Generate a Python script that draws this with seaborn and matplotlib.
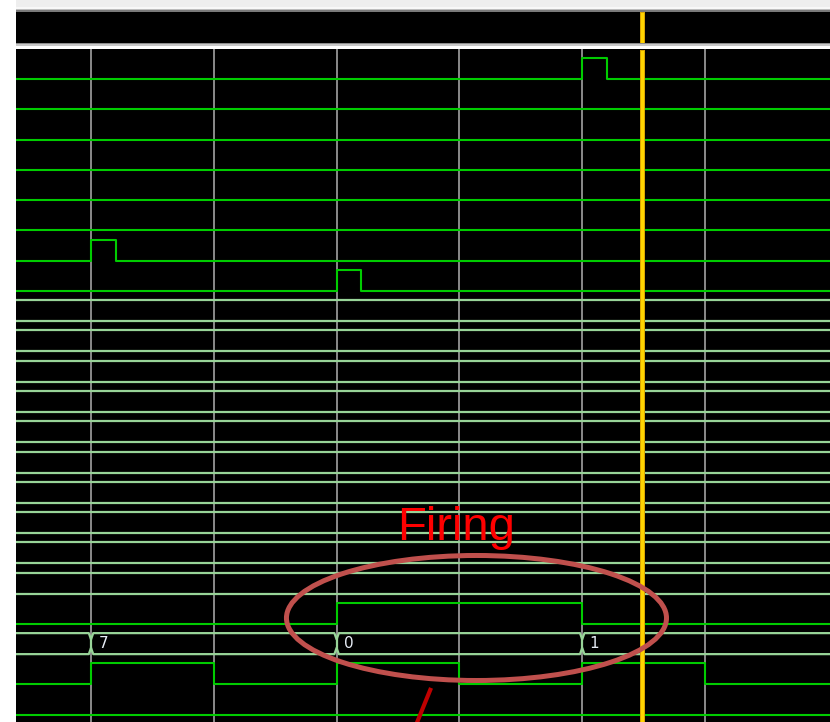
import numpy as np
import pandas as pd
import matplotlib
matplotlib.use("Agg")
import matplotlib.pyplot as plt
from matplotlib.patches import Rectangle, Ellipse
import seaborn as sns

# ---- time base (one grid division per clock period) ----
grid_times = [0, 1, 2, 3, 4, 5]
t_view = (-0.611, 6.018)
cursor_time = 4.487

# ---- single-bit signals: row -> (transition times, levels after each transition) ----
sig_rows = [0, 1, 2, 3, 4, 5, 6, 7, 18, 20, 21]
sig_times = [
    [4.0, 4.2],
    [], [], [], [], [],
    [0.0, 0.2],
    [2.0, 2.2],
    [2.0, 4.0],
    [0.0, 1.0, 2.0, 3.0, 4.0, 5.0],
    [],
]
sig_levels = [
    [1, 0],
    [], [], [], [], [],
    [1, 0],
    [1, 0],
    [1, 0],
    [1, 0, 1, 0, 1, 0],
    [],
]
sig_initial = [0, 0, 0, 0, 0, 0, 0, 0, 0, 0, 0]

# ---- buses: row -> (transition times, values shown after them) ----
bus_rows = [8, 9, 10, 11, 12, 13, 14, 15, 16, 17, 19]
bus_times = [[], [], [], [], [], [], [], [], [], [], [0.0, 2.0, 4.0]]
bus_values = [[], [], [], [], [], [], [], [], [], [], ["7", "0", "1"]]

LOW = 0.694      # low level offset inside a row
NOTCH = 0.018    # half-width of a bus transition mark

# build long-form tables for seaborn
sig_records = []
for row, times, levels, init in zip(sig_rows, sig_times, sig_levels, sig_initial):
    y_of = lambda v: row + (1 - v) * LOW
    pts = [(t_view[0] - 0.2, y_of(init))]
    cur = init
    for t, v in zip(times, levels):
        pts.append((t, y_of(cur)))
        pts.append((t, y_of(v)))
        cur = v
    pts.append((t_view[1] + 0.2, y_of(cur)))
    for i, (x, y) in enumerate(pts):
        sig_records.append({"time": x, "level": y, "seg": f"s{row}", "order": i})
sig_df = pd.DataFrame(sig_records)

bus_records = []
for row, times in zip(bus_rows, bus_times):
    top, bot = row, row + LOW
    q1, q3 = row + LOW * 0.3, row + LOW * 0.7
    top_pts = [(t_view[0] - 0.2, top)]
    bot_pts = [(t_view[0] - 0.2, bot)]
    for k, t in enumerate(times):
        top_pts += [(t - NOTCH, top), (t, q1), (t + NOTCH, top)]
        bot_pts += [(t - NOTCH, bot), (t, q3), (t + NOTCH, bot)]
        for i, (x, y) in enumerate([(t, q1), (t, q3)]):
            bus_records.append({"time": x, "level": y, "seg": f"b{row}v{k}", "order": i})
    top_pts.append((t_view[1] + 0.2, top))
    bot_pts.append((t_view[1] + 0.2, bot))
    for name, pts in (("t", top_pts), ("b", bot_pts)):
        for i, (x, y) in enumerate(pts):
            bus_records.append({"time": x, "level": y, "seg": f"b{row}{name}", "order": i})
bus_df = pd.DataFrame(bus_records)

W, H = 830, 722
fig = plt.figure(figsize=(W / 100, H / 100), dpi=100, facecolor="white")

def band(y0, y1, color, x0=16):
    fig.add_artist(Rectangle((x0 / W, 1 - y1 / H), (W - x0) / W, (y1 - y0) / H,
                             transform=fig.transFigure, facecolor=color,
                             edgecolor="none", zorder=0))

# window chrome above the waveforms
band(0, 7, "#eeeeee")
band(7, 9, "#f8f8f8")
band(9, 10.5, "#bdbdbd")
band(10.5, 12, "#7a7a7a")
band(12, 43, "#000000")
band(43, 44.5, "#8c8c8c")
band(44.5, 46, "#c8c8c8")
band(46, 48.5, "#ffffff")

# time ruler strip
ax_top = fig.add_axes([16 / W, 1 - 43 / H, (W - 16) / W, 31 / H])
ax_top.set_facecolor("black")
ax_top.set_xlim(*t_view)
ax_top.set_ylim(0, 1)
ax_top.axvline(cursor_time, ymin=0, ymax=0.94, color="#d9a400", lw=3.6)
ax_top.axvline(cursor_time, ymin=0, ymax=0.94, color="#ffd400", lw=2.2)
for s in ax_top.spines.values():
    s.set_visible(False)
ax_top.set_xticks([])
ax_top.set_yticks([])

# waveform area
ax = fig.add_axes([16 / W, 0, (W - 16) / W, 673 / H])
ax.set_facecolor("black")
for s in ax.spines.values():
    s.set_visible(False)
ax.set_xticks([])
ax.set_yticks([])

for t in grid_times:
    ax.axvline(t, color="#8a8a8a", lw=1.4, zorder=1)

sns.lineplot(data=bus_df.sort_values(["seg", "order"]), x="time", y="level",
             units="seg", estimator=None, sort=False, color="#98d498",
             lw=1.6, ax=ax, zorder=2, legend=False)
sns.lineplot(data=sig_df.sort_values(["seg", "order"]), x="time", y="level",
             units="seg", estimator=None, sort=False, color="#00cc00",
             lw=1.5, ax=ax, zorder=3, legend=False)

for row, times, vals in zip(bus_rows, bus_times, bus_values):
    for t, v in zip(times, vals):
        ax.text(t + 0.06, row + LOW / 2, v, color="#e6ecf5", fontsize=11,
                family="DejaVu Sans", va="center", ha="left", zorder=4)

ax.axvline(cursor_time, ymin=0, ymax=0.996, color="#d9a400", lw=3.6, zorder=5)
ax.axvline(cursor_time, ymin=0, ymax=0.996, color="#ffd400", lw=2.2, zorder=6)

ax.set_xlim(*t_view)
ax.set_ylim(21.936, -0.2973)
ax.set_xlabel("")
ax.set_ylabel("")

# highlight of the firing window
ax.add_patch(Ellipse((3.139, 18.5), 3.095, 4.13, fill=False,
                     edgecolor="#c0504d", lw=3.6, zorder=7))
ax.text(2.97, 15.92, "Firing", color="#ff0000", fontsize=34,
        family="Liberation Sans", ha="center", va="baseline", zorder=8)
ax.plot([2.769, 2.640], [20.81, 22.10], color="#c00000", lw=3.0,
        solid_capstyle="butt", zorder=8)

fig.savefig("out.png", dpi=100, facecolor="white")
